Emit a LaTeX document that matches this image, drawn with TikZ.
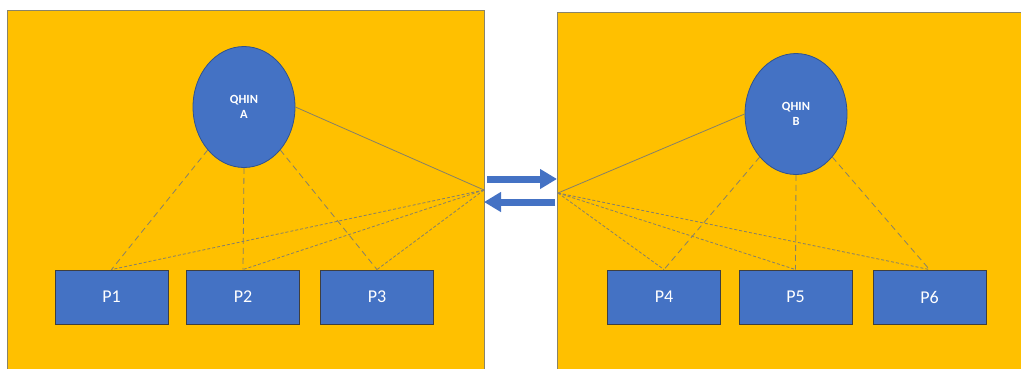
\documentclass[tikz,border=0pt]{standalone}
\usepackage{fontspec}
\setmainfont{Carlito}
\usetikzlibrary{shapes.geometric,arrows.meta}
\definecolor{panelfill}{HTML}{FFC000}
\definecolor{panelline}{HTML}{8A8468}
\definecolor{nodeblue}{HTML}{4472C4}
\definecolor{ringblue}{HTML}{2F528F}
\definecolor{boxedge}{HTML}{3F3F3F}
\definecolor{linkgray}{HTML}{85806A}
\tikzset{
  panel/.style={fill=panelfill, draw=panelline, line width=0.9pt},
  qhin/.style={ellipse, fill=nodeblue, draw=ringblue, line width=0.8pt,
    minimum width=102pt, minimum height=121pt, inner sep=0pt,
    text=white, font=\fontsize{12.5}{15}\selectfont\bfseries, align=center},
  pbox/.style={rectangle, fill=nodeblue, draw=boxedge, line width=0.9pt,
    minimum width=113pt, minimum height=54pt, inner sep=0pt,
    text=white, font=\fontsize{18}{20}\selectfont},
  solidlink/.style={draw=linkgray, line width=0.8pt},
  longdash/.style={draw=linkgray, line width=0.8pt, dash pattern=on 6pt off 4pt},
  shortdash/.style={draw=linkgray, line width=0.8pt, dash pattern=on 3pt off 2pt},
  flow/.style={draw=nodeblue, line width=7pt,
    -{Triangle[width=19pt,length=17pt]}}
}
\begin{document}
\begin{tikzpicture}[x=1pt,y=-1pt]
\useasboundingbox (0,0) rectangle (1021,368);
\begin{scope}
  \clip (0,0) rectangle (1021,368);
  \draw[panel] (7,10) rectangle (484,380);
  \draw[panel] (557,12) rectangle (1030,380);
\end{scope}

% left network
\node[qhin] (qa) at (244,107) {QHIN\\A};
\node[pbox] (p1) at (111.5,297) {P1};
\node[pbox] (p2) at (243,297) {P2};
\node[pbox] (p3) at (377,297) {P3};
\coordinate (hubA) at (484,190);

% right network
\node[qhin] (qb) at (796,114) {QHIN\\B};
\node[pbox] (p4) at (664,297) {P4};
\node[pbox] (p5) at (795.5,297) {P5};
\node[pbox] (p6) at (929.5,297) {P6};
\coordinate (hubB) at (558,193);

% links inside each network
\draw[solidlink] (qa.east) -- (hubA);
\draw[longdash] (qa.south west) -- (p1.north);
\draw[longdash] (qa.south) -- (p2.north);
\draw[longdash] (qa.south east) -- (p3.north);
\foreach \p in {p1,p2,p3} \draw[shortdash] (hubA) -- (\p.north);

\draw[solidlink] (hubB) -- (qb.west);
\draw[longdash] (qb.south west) -- (p4.north);
\draw[longdash] (qb.south) -- (p5.north);
\draw[longdash] (qb.south east) -- (p6.north);
\foreach \p in {p4,p5,p6} \draw[shortdash] (hubB) -- (\p.north);

% exchange between the two networks
\coordinate (outA) at (487,179);
\coordinate (inB) at (557,179);
\coordinate (outB) at (555,202);
\coordinate (inA) at (484,202);
\draw[flow] (outA) -- (inB);
\draw[flow] (outB) -- (inA);
\end{tikzpicture}
\end{document}
